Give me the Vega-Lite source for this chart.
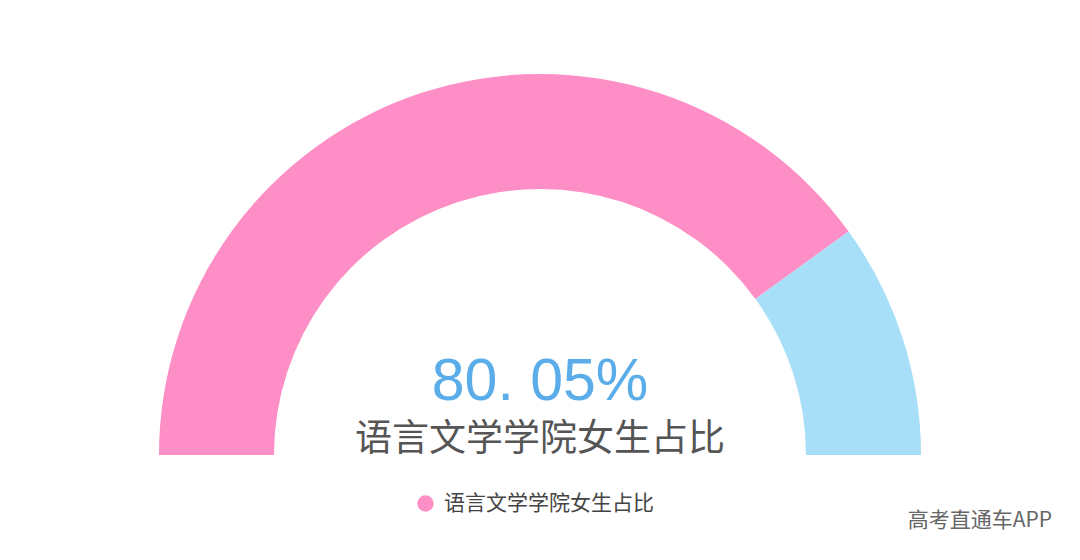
{
  "$schema": "https://vega.github.io/schema/vega-lite/v6.json",
  "width": 1080,
  "height": 910,
  "autosize": "none",
  "padding": 0,
  "background": "white",
  "config": {"view": {"stroke": null}},
  "datasets": {
    "gauge": [
      {"group": "语言文学学院女生占比", "value": 80.05, "order": 1},
      {"group": "其他", "value": 19.95, "order": 2},
      {"group": "空白", "value": 100, "order": 3}
    ],
    "label": [{"pct": "80. 05%", "name": "语言文学学院女生占比", "mark": "高考直通车APP"}]
  },
  "layer": [
    {
      "data": {"name": "gauge"},
      "mark": {"type": "arc", "radius": 381, "radius2": 266},
      "encoding": {
        "theta": {
          "field": "value",
          "type": "quantitative",
          "stack": true,
          "scale": {"range": [-1.5708, 4.7124]}
        },
        "order": {"field": "order", "type": "quantitative"},
        "color": {
          "field": "group",
          "type": "nominal",
          "scale": {
            "domain": ["语言文学学院女生占比", "其他", "空白"],
            "range": ["#fe8fc6", "#a8dff8", "rgba(255,255,255,0)"]
          },
          "legend": {
            "values": ["语言文学学院女生占比"],
            "title": null,
            "orient": "none",
            "legendX": 415,
            "legendY": 493,
            "symbolType": "circle",
            "symbolSize": 270,
            "symbolStrokeWidth": 0,
            "labelFont": "Noto Sans CJK SC",
            "labelFontSize": 21,
            "labelColor": "#444",
            "labelOffset": 8,
            "labelLimit": 400
          }
        }
      }
    },
    {
      "data": {"name": "label"},
      "mark": {
        "type": "text",
        "font": "Liberation Sans",
        "fontSize": 59,
        "color": "#5aade8",
        "baseline": "alphabetic",
        "align": "center",
        "dy": -55
      },
      "encoding": {"text": {"field": "pct"}}
    },
    {
      "data": {"name": "label"},
      "mark": {
        "type": "text",
        "font": "Noto Sans CJK SC",
        "fontSize": 37,
        "color": "#555555",
        "baseline": "middle",
        "align": "center",
        "dy": -15
      },
      "encoding": {"text": {"field": "name"}}
    },
    {
      "data": {"name": "label"},
      "mark": {
        "type": "text",
        "font": "Noto Sans CJK SC",
        "fontSize": 21,
        "color": "#666666",
        "baseline": "middle",
        "align": "right",
        "dx": 512,
        "dy": 66
      },
      "encoding": {"text": {"field": "mark"}}
    }
  ]
}
